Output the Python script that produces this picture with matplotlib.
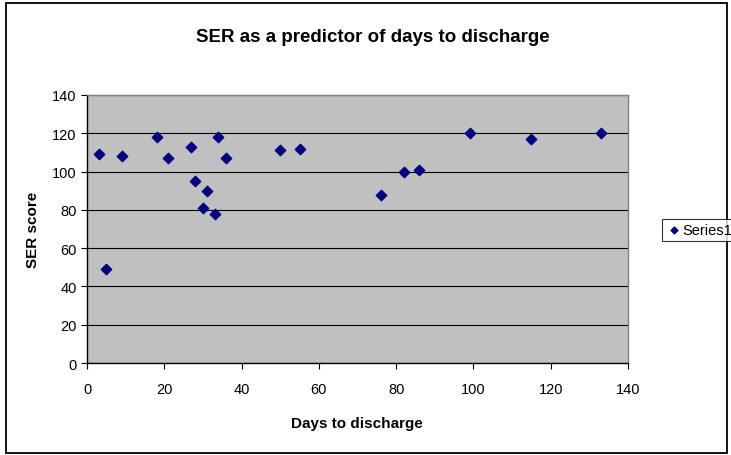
import matplotlib
matplotlib.use("Agg")
import matplotlib.pyplot as plt
from matplotlib.patches import Rectangle

plt.rcParams['font.family'] = ['Liberation Sans', 'DejaVu Sans']

# days to discharge vs SER score
days = [3, 5, 9, 18, 21, 27, 28, 30, 31, 33, 34, 36, 50, 55, 76, 82, 86, 99, 115, 133]
ser = [109, 49, 108, 118, 107, 113, 95, 81, 90, 78, 118, 107, 111.5, 112, 88, 100, 101, 120, 117, 120]
xticks = [0, 20, 40, 60, 80, 100, 120, 140]
yticks = [0, 20, 40, 60, 80, 100, 120, 140]

W, H = 731, 456
fig = plt.figure(figsize=(W/100, H/100), dpi=100)
fig.patches.append(Rectangle((6/W, 2/H), 721/W, 450/H, transform=fig.transFigure,
                             fill=False, edgecolor="black", lw=1.3))

ax = fig.add_axes([87/W, 1-364/H, 541/W, 268/H])
ax.set_facecolor("#C0C0C0")
for s in ax.spines.values():
    s.set_color("#808080"); s.set_linewidth(1)
ax.spines["left"].set_color("black"); ax.spines["bottom"].set_color("black")

ax.scatter(days, ser, marker="D", s=28, color="#000080", zorder=3, label="Series1")
ax.set_xlim(0, 140); ax.set_ylim(0, 140)
ax.set_xticks(xticks); ax.set_yticks(yticks)
ax.tick_params(direction="out", length=4, labelsize=10.5, colors="black")
ax.tick_params(axis="x", pad=10)
ax.grid(True, axis="y", color="black", lw=0.8)
ax.set_axisbelow(True)

fig.text(373/W, 1-38/H, "SER as a predictor of days to discharge",
         ha="center", va="center", fontsize=13.5, fontweight="bold")
fig.text(357/W, 1-424/H, "Days to discharge", ha="center", va="center",
         fontsize=11, fontweight="bold")
fig.text(33/W, 1-230/H, "SER score", ha="center", va="center", rotation=90,
         fontsize=11, fontweight="bold")

leg = fig.legend(loc="center left", bbox_to_anchor=(655/W, 1-231/H), frameon=True,
                 fancybox=False, edgecolor="black", fontsize=10.5, handletextpad=0.1,
                 borderpad=0.3, handlelength=1.0, markerscale=0.65)
leg.get_frame().set_linewidth(0.8)

fig.savefig("out.png", dpi=100)
